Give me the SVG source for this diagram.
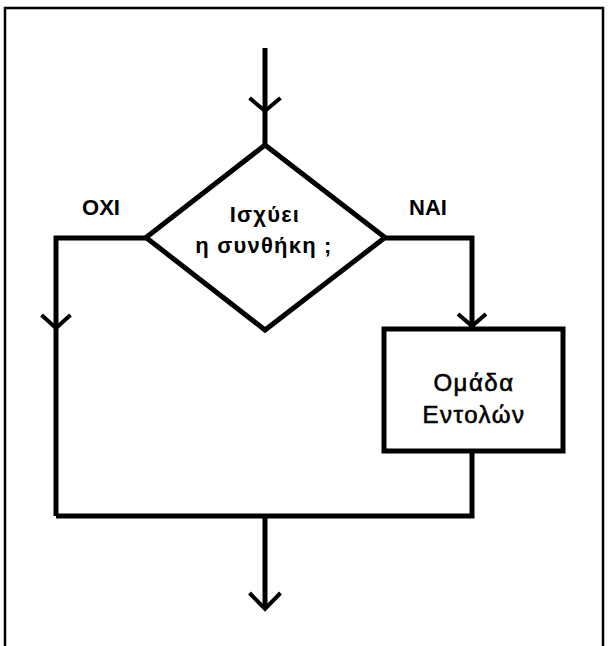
<svg xmlns="http://www.w3.org/2000/svg" width="608" height="646" viewBox="0 0 608 646">
  <style>
    .frame { fill: none; stroke: #000; stroke-width: 2.5; }
    .line { fill: none; stroke: #000; stroke-width: 5; stroke-linejoin: miter; }
    .head { fill: none; stroke: #000; stroke-width: 4; stroke-linejoin: miter; stroke-linecap: butt; }
    .shape { fill: #fff; stroke: #000; stroke-width: 5; stroke-linejoin: miter; }
    .lbl { font-family: "Liberation Sans", Arial, sans-serif; font-weight: bold; font-size: 22px; fill: #000; text-anchor: middle; }
    .cond { font-family: "Liberation Sans", Arial, sans-serif; font-weight: bold; font-size: 22px; letter-spacing: 1.2px; fill: #000; text-anchor: middle; }
    .body { font-family: "Liberation Sans", Arial, sans-serif; font-size: 24px; letter-spacing: 1.5px; fill: #000; text-anchor: middle; stroke: #000; stroke-width: 0.6; }
  </style>
  <rect width="608" height="646" fill="#fff"/>
  <!-- open frame: left, top and right edges -->
  <path class="frame" d="M5,646 V8 H603 V646"/>

  <g id="connectors">
    <!-- entry -->
    <path class="line" d="M265,48 V145"/>
    <path class="head" d="M249.5,98 L265,111 L280.5,98"/>
    <!-- NO branch -->
    <path class="line" d="M146,238 H56 V516"/>
    <path class="head" d="M41.5,315 L56,328 L70.5,315"/>
    <!-- YES branch -->
    <path class="line" d="M385,238 H472 V329"/>
    <path class="head" d="M458,314 L472,326 L486,314"/>
    <!-- merge -->
    <path class="line" d="M472,451 V516 H56"/>
    <!-- exit -->
    <path class="line" d="M265,516 V609"/>
    <path class="head" d="M249.5,593 L265,609 L280.5,593"/>
  </g>

  <g id="decision">
    <polygon class="shape" points="265,145 385,237.5 265,330 146,237.5"/>
    <text class="cond" x="265" y="222">Ισχύει</text>
    <text class="cond" x="264" y="253">η συνθήκη ;</text>
  </g>

  <g id="label-no">
    <text class="lbl" x="101" y="215">OXI</text>
  </g>

  <g id="label-yes">
    <text class="lbl" x="428" y="215">NAI</text>
  </g>

  <g id="statements">
    <rect class="shape" x="384" y="329" width="179" height="122"/>
    <text class="body" x="474" y="391">Ομάδα</text>
    <text class="body" x="474" y="423">Εντολών</text>
  </g>
</svg>
